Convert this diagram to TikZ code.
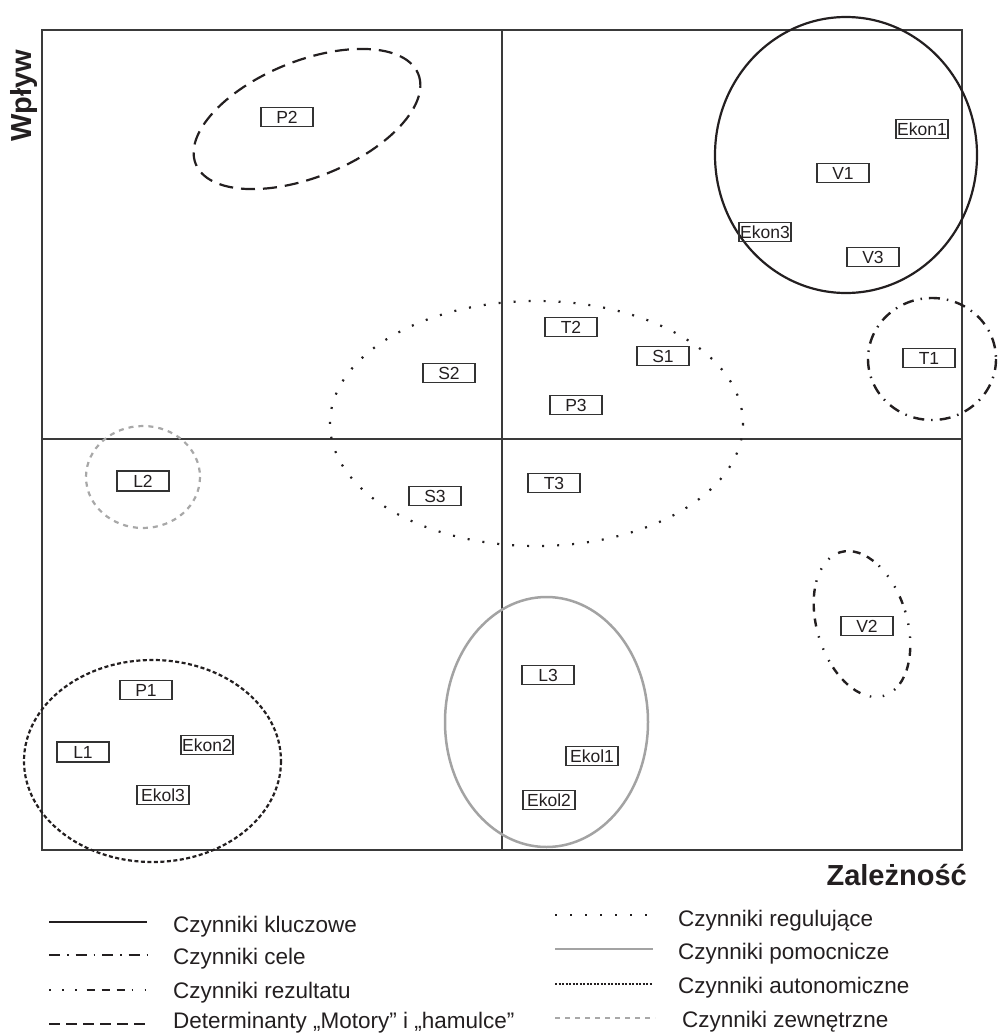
\documentclass[tikz,border=0pt]{standalone}
\usepackage{fontspec}
\setmainfont{Liberation Sans}
\definecolor{ink}{HTML}{231F20}
\definecolor{framec}{HTML}{3A3A3A}
\definecolor{boxc}{HTML}{333333}
\definecolor{grayc}{HTML}{A3A3A3}
\definecolor{grayd}{HTML}{A8A8A8}
\begin{document}
\begin{tikzpicture}[x=1pt,y=-1pt,
  lab/.style={draw=boxc, line width=1.2pt, minimum width=52pt, minimum height=19.5pt, inner sep=0pt, font=\fontsize{17.5}{17.5}\selectfont, text=ink},
  labthick/.style={lab, line width=1.8pt},
  frame/.style={draw=framec, line width=1.5pt},
  kluczowe/.style={draw=ink, line width=2.2pt},
  cele/.style={draw=ink, line width=2.4pt, dash pattern=on 11pt off 7pt on 1.5pt off 7pt},
  rezultatu/.style={draw=ink, line width=2.4pt, dash pattern=on 1.5pt off 11.5pt on 1.5pt off 11.5pt on 1.5pt off 10pt on 8pt off 7pt on 8pt off 7pt on 8pt off 7pt},
  determinanty/.style={draw=ink, line width=2.2pt, dash pattern=on 14pt off 8pt},
  regulujace/.style={draw=ink, line width=2.2pt, dash pattern=on 2pt off 13pt},
  pomocnicze/.style={draw=grayc, line width=2.5pt},
  autonomiczne/.style={draw=ink, line width=2.2pt, dash pattern=on 4pt off 2.5pt},
  zewnetrzne/.style={draw=grayd, line width=2.2pt, dash pattern=on 5pt off 5pt},
  legtxt/.style={anchor=base west, inner sep=0pt, font=\fontsize{22.5}{22.5}\selectfont, text=ink},
  axislab/.style={inner sep=0pt, font=\fontsize{29}{29}\selectfont\bfseries, text=ink}
]
\useasboundingbox (0,0) rectangle (998,1034);

% frame and quadrants
\draw[frame] (42,30) rectangle (962,850);
\draw[frame] (502,30) -- (502,850);
\draw[frame] (42,439) -- (962,439);

% groups
\draw[kluczowe] (846,155) ellipse [x radius=131, y radius=138];
\draw[cele] (932,359) ellipse [x radius=64, y radius=61];
\draw[rezultatu, rotate around={17:(862,624)}] (862,624) ellipse [x radius=45, y radius=75];
\draw[determinanty, rotate around={22:(307,119)}] (307,119) ellipse [x radius=120, y radius=58];
\draw[regulujace] (536.5,423.5) ellipse [x radius=206.5, y radius=122.5];
\draw[pomocnicze] (546.5,722) ellipse [x radius=101.5, y radius=125];
\draw[autonomiczne] (152.5,761) ellipse [x radius=128.5, y radius=101];
\draw[zewnetrzne] (143,477) ellipse [x radius=57, y radius=51];

% factors
\node[lab] (P2) at (287,117) {P2};
\node[lab] (Ekon1) at (922,129) {Ekon1};
\node[lab] (V1) at (843,173) {V1};
\node[lab] (Ekon3) at (765,232) {Ekon3};
\node[lab] (V3) at (873,257) {V3};
\node[lab] (T1) at (929,358) {T1};
\node[lab] (T2) at (571,327) {T2};
\node[lab] (S1) at (663,356) {S1};
\node[lab] (S2) at (449,373) {S2};
\node[lab] (P3) at (576,405) {P3};
\node[lab] (S3) at (435,496) {S3};
\node[lab] (T3) at (554,483) {T3};
\node[labthick] (L2) at (143,481) {L2};
\node[lab] (V2) at (867,626) {V2};
\node[lab] (L3) at (548,675) {L3};
\node[lab] (Ekol1) at (592,756) {Ekol1};
\node[lab] (Ekol2) at (549,800) {Ekol2};
\node[lab] (P1) at (146,690) {P1};
\node[labthick] (L1) at (83,752) {L1};
\node[lab] (Ekon2) at (207,745) {Ekon2};
\node[lab] (Ekol3) at (163,795) {Ekol3};

% axis labels
\node[axislab, rotate=90] (wplyw) at (24,96) {Wpływ};
\node[axislab, anchor=base east] (zaleznosc) at (967,885) {Zależność};

% legend, left column
\draw[kluczowe] (49,922) -- (147,922);
\node[legtxt] (lg1) at (173,932) {Czynniki kluczowe};
\draw[cele] (49,955) -- (147,955);
\node[legtxt] (lg2) at (173,964) {Czynniki cele};
\draw[rezultatu] (49,990) -- (147,990);
\node[legtxt] (lg3) at (173,998) {Czynniki rezultatu};
\draw[determinanty, dash pattern=on 11pt off 6pt] (49,1024) -- (147,1024);
\node[legtxt] (lg4) at (173,1028) {Determinanty „Motory” i „hamulce”};

% legend, right column
\draw[regulujace] (555,915) -- (653,915);
\node[legtxt] (lg5) at (678,926) {Czynniki regulujące};
\draw[pomocnicze] (555,949) -- (653,949);
\node[legtxt] (lg6) at (678,959) {Czynniki pomocnicze};
\draw[autonomiczne, dash pattern=on 2pt off 1.5pt] (555,984) -- (653,984);
\node[legtxt] (lg7) at (678,993) {Czynniki autonomiczne};
\draw[zewnetrzne] (555,1018) -- (655,1018);
\node[legtxt] (lg8) at (682,1027) {Czynniki zewnętrzne};
\end{tikzpicture}
\end{document}
